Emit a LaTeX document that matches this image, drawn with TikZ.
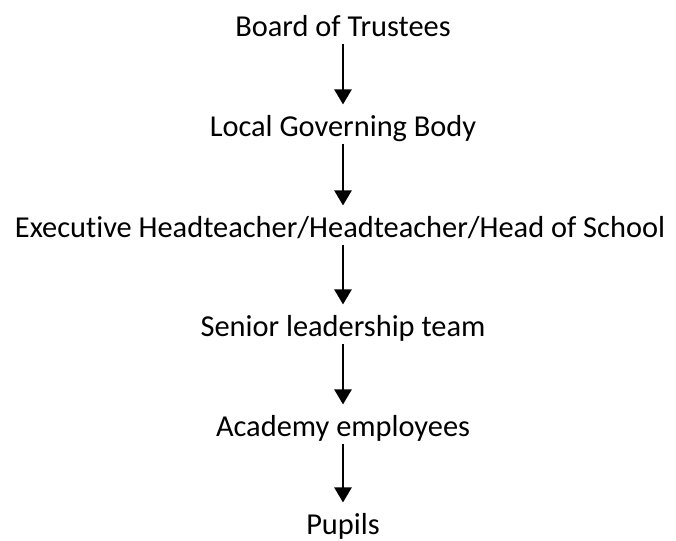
\documentclass[tikz,border=0pt]{standalone}
\usepackage{fontspec}
\setmainfont{Carlito}[Ligatures=NoCommon]
\usetikzlibrary{arrows.meta}

\tikzset{
  level/.style={anchor=base, inner sep=0pt, text height=14.7pt, text depth=5pt, font=\fontsize{22.8}{27}\selectfont},
  down/.style={-{Triangle[width=12.75pt,length=11.25pt]}, line width=1.8pt, shorten >=9.5pt}
}

\begin{document}
\begin{tikzpicture}[x=0.75pt,y=-0.75pt]
	\useasboundingbox (0,0) rectangle (676,541);
	\node[level] (trust) at (343,37) {Board of Trustees};
	\node[level] (lgb) at (343,137) {Local Governing Body};
	\node[level] (head) at (340,238) {Executive Headteacher/Headteacher/Head of School};
	\node[level] (slt) at (343,337) {Senior leadership team};
	\node[level] (staff) at (343,437) {Academy employees};
	\node[level] (pupils) at (343,535) {Pupils};
	\draw[down] (trust.south) -- (trust.south |- lgb.north);
	\draw[down] (lgb.south) -- (lgb.south |- head.north);
	\draw[down] (head.south -| slt.north) -- (slt.north);
	\draw[down] (slt.south) -- (staff.north);
	\draw[down] (staff.south) -- (pupils.north);
\end{tikzpicture}
\end{document}
